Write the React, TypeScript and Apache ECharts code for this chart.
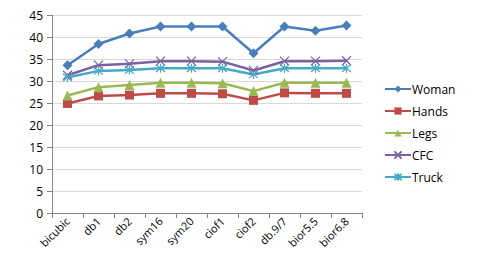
import React, { useEffect, useRef } from "react";
import * as echarts from "echarts";

const categories = ["bicubic", "db1", "db2", "sym16", "sym20", "ciof1", "ciof2", "db.9/7", "bior5.5", "bior6.8"];
const woman = [33.6, 38.4, 40.8, 42.4, 42.4, 42.4, 36.3, 42.4, 41.4, 42.6];
const hands = [24.9, 26.6, 26.8, 27.2, 27.2, 27.1, 25.6, 27.3, 27.2, 27.2];
const legs = [26.7, 28.6, 29.1, 29.6, 29.6, 29.5, 27.7, 29.6, 29.6, 29.6];
const cfc = [31.3, 33.6, 33.9, 34.5, 34.5, 34.4, 32.4, 34.5, 34.5, 34.6];
const truck = [30.8, 32.3, 32.5, 32.9, 32.9, 32.9, 31.5, 32.9, 32.9, 32.9];
const seriesNames = ["Woman", "Hands", "Legs", "CFC", "Truck"];
const yTicks = { min: 0, max: 45, interval: 5 };

const colors = ["#4A7EBB", "#BE4B48", "#98B954", "#7D60A0", "#46AAC5"];
const FONT = "'Open Sans', 'Liberation Sans', sans-serif";

export default function App() {
  const ref = useRef<HTMLDivElement>(null);
  useEffect(() => {
    if (!ref.current) return;
    const chart = echarts.init(ref.current, undefined, { renderer: "svg" });
    const xPath = "path://M0,0 L10,10 M10,0 L0,10";
    const starPath = "path://M0,0 L10,10 M10,0 L0,10 M5,-1 L5,11";
    const data = [woman, hands, legs, cfc, truck];
    const symbols = ["diamond", "rect", "triangle", xPath, starPath];
    const sizes = [10, 9, 10, 9, 9];
    chart.setOption({
      animation: false,
      color: colors,
      grid: { left: 52, top: 15, right: 118, bottom: 57 },
      legend: {
        orient: "vertical",
        left: 379,
        top: 78,
        itemWidth: 26,
        itemHeight: 9,
        itemGap: 10,
        textStyle: { fontFamily: FONT, fontSize: 12, color: "#000", padding: [0, 0, 0, -4] },
        data: seriesNames,
      },
      xAxis: {
        type: "category",
        data: categories,
        boundaryGap: true,
        axisLine: { lineStyle: { color: "#868686", width: 1 } },
        axisTick: { show: true, alignWithLabel: false, length: 5, lineStyle: { color: "#868686" } },
        axisLabel: { rotate: 45, fontFamily: FONT, fontSize: 11, color: "#000", margin: 6, interval: 0 },
      },
      yAxis: {
        type: "value",
        min: yTicks.min,
        max: yTicks.max,
        interval: yTicks.interval,
        axisLine: { show: true, lineStyle: { color: "#868686", width: 1 } },
        axisTick: { show: true, length: 5, lineStyle: { color: "#868686" } },
        axisLabel: { fontFamily: FONT, fontSize: 12, color: "#000", margin: 9 },
        splitLine: { lineStyle: { color: "#D9D9D9", width: 1 } },
      },
      series: seriesNames.map((name, i) => ({
        name,
        type: "line",
        data: data[i],
        symbol: symbols[i],
        symbolSize: sizes[i],
        showSymbol: true,
        lineStyle: { width: 2.5, color: colors[i] },
        itemStyle:
          i >= 3
            ? { color: colors[i], borderColor: colors[i], borderWidth: 1.2 }
            : { color: colors[i], borderColor: colors[i], borderWidth: 0 },
      })),
    });
    return () => chart.dispose();
  }, []);
  return <div ref={ref} style={{ width: 480, height: 270, position: "absolute", left: 0, top: 0, background: "#fff" }} />;
}
